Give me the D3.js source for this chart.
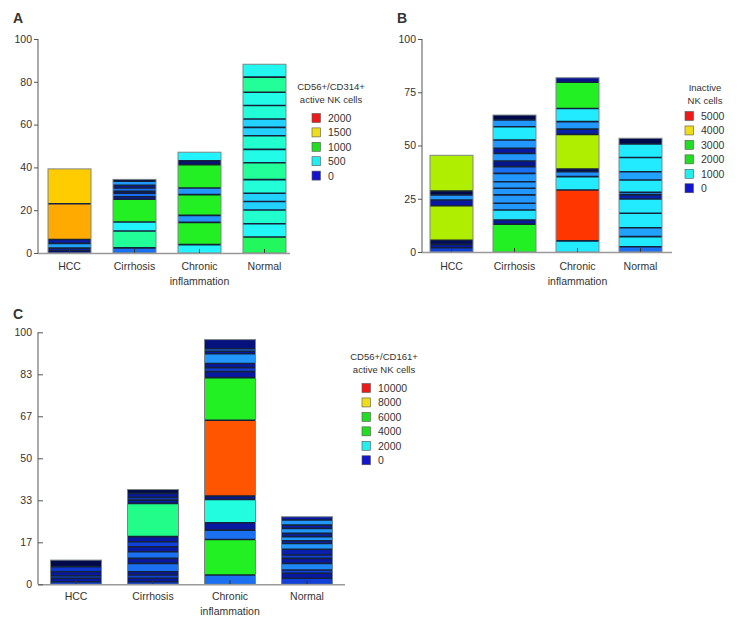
<!DOCTYPE html>
<html><head><meta charset="utf-8">
<script src="https://cdn.jsdelivr.net/npm/d3@7"></script>
<style>body{margin:0;background:#fff}svg{display:block}text{font-family:"Liberation Sans",Arial,sans-serif;fill:#333}</style>
</head><body><svg id="c" width="739" height="628"></svg>
<script>
// ---------- data ----------
const categories = ["HCC", "Cirrhosis", "Chronic inflammation", "Normal"];

const ticksA = [0, 20, 40, 60, 80, 100];
const ticksB = [0, 25, 50, 75, 100];
const ticksC = [0, 100/6, 200/6, 50, 400/6, 500/6, 100];
const tickLabelsC = ["0", "17", "33", "50", "67", "83", "100"];

// Panel A: upper edge of each stacked segment (%) and its colour value (0-2000)
const aTops = [
  [1.2, 2.3, 4.5, 6.3, 23.0, 39.3],
  [2.4, 10.3, 14.5, 25.1, 26.3, 27.9, 28.8, 30.4, 31.6, 33.5, 34.4],
  [3.9, 14.3, 17.6, 27.3, 30.4, 41.3, 43.1, 47.1],
  [7.5, 13.7, 20.1, 24.1, 27.9, 34.3, 42.2, 48.4, 54.8, 58.7, 62.6, 68.9, 75.1, 82.2, 88.2]
];
const aVals = [
  [60, 120, 420, 110, 1600, 1440],
  [300, 840, 600, 1000, 100, 300, 100, 300, 100, 400, 0],
  [600, 1000, 400, 1000, 400, 1000, 50, 600],
  [920, 620, 720, 520, 520, 700, 840, 660, 720, 520, 520, 700, 660, 840, 640]
];
// Panel B: colour value 0-5000
const bTops = [
  [2.0, 3.6, 5.5, 21.7, 24.4, 26.8, 28.6, 45.4],
  [13.1, 15.0, 19.7, 22.9, 26.8, 29.9, 33.0, 36.9, 40.1, 42.7, 46.3, 48.7, 52.6, 58.8, 62.0, 64.3],
  [5.2, 29.1, 35.4, 37.7, 39.0, 55.2, 57.7, 61.2, 67.4, 79.7, 81.8],
  [2.5, 7.2, 11.4, 18.2, 24.9, 26.8, 28.0, 33.8, 37.7, 44.4, 50.7, 53.4]
];
const bVals = [
  [500, 250, 50, 3100, 250, 1000, 0, 3100],
  [2500, 250, 1400, 1000, 1000, 1000, 1000, 1000, 750, 200, 1000, 250, 1000, 1450, 1000, 0],
  [1450, 4800, 1450, 950, 50, 3100, 300, 1000, 1450, 2500, 200],
  [750, 1450, 1050, 1450, 1450, 300, 1000, 1450, 1050, 1450, 1450, 0]
];
// Panel C: colour value 0-10000
const cTops = [
  [1.0, 2.4, 3.4, 5.0, 7.0, 9.6],
  [1.0, 2.4, 3.7, 5.0, 8.3, 10.3, 12.9, 14.9, 16.9, 18.9, 32.1, 33.4, 34.5, 36.1, 37.6],
  [3.7, 17.8, 21.5, 24.4, 33.7, 35.0, 65.1, 82.0, 84.4, 86.0, 87.6, 91.5, 92.5, 93.5, 97.1],
  [2.4, 4.4, 5.7, 8.3, 10.3, 11.6, 13.9, 16.2, 17.3, 18.9, 20.2, 22.2, 23.5, 25.5, 26.8]
];
const cVals = [
  [1000, 500, 1000, 500, 900, 0],
  [1000, 500, 1000, 500, 1500, 500, 1500, 500, 1000, 500, 4300, 500, 1000, 500, 0],
  [1500, 5000, 1500, 500, 3400, 500, 9000, 5000, 500, 1000, 500, 2000, 500, 1500, 300],
  [1000, 500, 1000, 1800, 500, 1000, 600, 2000, 600, 2000, 600, 2000, 600, 2000, 500]
];

const legendALabels = ["2000", "1500", "1000", "500", "0"];
const legendAColors = ["#ee1a1a", "#eedd1a", "#22dd22", "#22eeee", "#1414cc"];
const legendBLabels = ["5000", "4000", "3000", "2000", "1000", "0"];
const legendBColors = ["#ee1a1a", "#eedd1a", "#22dd22", "#22dd22", "#22eeee", "#1414cc"];
const legendCLabels = ["10000", "8000", "6000", "4000", "2000", "0"];
const legendCColors = ["#ee1a1a", "#eedd1a", "#22dd22", "#22dd22", "#22eeee", "#1414cc"];

// ---------- drawing ----------
const svg = d3.select("#c");
const heat = d3.scaleLinear()
  .domain([0, 0.05, 0.10, 0.15, 0.20, 0.25, 0.30, 0.35, 0.42, 0.50, 0.62, 0.72, 0.80, 0.90, 1.0])
  .range(["#000a4a", "#0818a0", "#1040d8", "#1a70f0", "#2298ff", "#22c8ff", "#22f4ff", "#22ffd8",
          "#22ff99", "#22f022", "#b0ee00", "#ffcc00", "#ffaa00", "#ff5500", "#ff2200"])
  .clamp(true);

function panel(cfg) {
  const g = svg.append("g");
  const x = d3.scaleBand().domain(categories).range(cfg.xr)
    .paddingInner(cfg.pad).paddingOuter(cfg.pad / 2);
  const y = d3.scaleLinear().domain([0, 100]).range(cfg.yr);

  categories.forEach((cat, i) => {
    const tops = cfg.tops[i], vals = cfg.vals[i];
    const bg = g.append("g");
    const segs = tops.map((t, j) => ({lo: j ? tops[j - 1] : 0, hi: t, v: vals[j]}));
    bg.selectAll("rect.s").data(segs).join("rect").attr("class", "s")
      .attr("x", x(cat)).attr("width", x.bandwidth())
      .attr("y", d => y(d.hi)).attr("height", d => y(d.lo) - y(d.hi))
      .attr("fill", d => heat(d.v / cfg.max));
    bg.selectAll("line.sep").data(tops.slice(0, -1)).join("line").attr("class", "sep")
      .attr("x1", x(cat)).attr("x2", x(cat) + x.bandwidth())
      .attr("y1", d => y(d)).attr("y2", d => y(d))
      .attr("stroke", "#14223a").attr("stroke-width", 1.6);
    bg.append("rect").attr("x", x(cat)).attr("width", x.bandwidth())
      .attr("y", y(tops[tops.length - 1])).attr("height", y(0) - y(tops[tops.length - 1]))
      .attr("fill", "none").attr("stroke", "#7c8686").attr("stroke-width", 1);
    bg.append("line").attr("x1", x(cat) + x.bandwidth() / 2).attr("x2", x(cat) + x.bandwidth() / 2)
      .attr("y1", y(0)).attr("y2", y(0) - 4).attr("stroke", "#333").attr("stroke-width", 1);
  });

  g.append("line").attr("x1", cfg.ax).attr("x2", cfg.xEnd).attr("y1", y(0) + 0.5).attr("y2", y(0) + 0.5)
    .attr("stroke", "#999").attr("stroke-width", 1.6);
  const yAxis = (cfg.inward ? d3.axisRight(y).tickSize(5) : d3.axisLeft(y).tickSize(4))
    .tickValues(cfg.ticks).tickFormat((d, k) => cfg.tickLabels ? cfg.tickLabels[k] : d);
  const ya = g.append("g").attr("transform", `translate(${cfg.ax},0)`).call(yAxis);
  ya.select(".domain").attr("stroke", "#555").attr("d", `M0,${y(0)}V${y(100)}`);
  ya.selectAll(".tick line").attr("stroke", "#555");
  ya.selectAll(".tick text").attr("fill", "#333").style("font-size", "10.5px")
    .style("font-family", '"Liberation Sans",Arial,sans-serif');
  if (cfg.inward) ya.selectAll(".tick text").attr("x", -6).attr("text-anchor", "end");
  else ya.selectAll(".tick text").attr("x", -6);

  categories.forEach(cat => {
    const words = cat === "Chronic inflammation" ? ["Chronic", "inflammation"] : [cat];
    words.forEach((w, k) => {
      g.append("text").attr("x", x(cat) + x.bandwidth() / 2).attr("y", cfg.labY + k * 15)
        .attr("text-anchor", "middle").style("font-size", "10.5px").text(w);
    });
  });

  g.append("text").attr("x", cfg.letter[0]).attr("y", cfg.letter[1])
    .style("font-size", "14px").style("font-weight", "bold").attr("fill", "#111").text(cfg.name);

  cfg.legTitle.forEach((t, k) => {
    g.append("text").attr("x", cfg.legTitleX).attr("y", cfg.legTitleY + k * 13)
      .attr("text-anchor", "middle").style("font-size", "9.5px").text(t);
  });
  cfg.legLabels.forEach((t, k) => {
    const cy = cfg.legY + k * cfg.legStep;
    g.append("rect").attr("x", cfg.legX).attr("y", cy - 4.5).attr("width", 8.5).attr("height", 9)
      .attr("fill", cfg.legColors[k]).attr("stroke", "#555").attr("stroke-width", 0.6);
    g.append("text").attr("x", cfg.legX + 16).attr("y", cy + 4)
      .style("font-size", "10.5px").text(t);
  });
}

panel({name: "A", letter: [13, 23], xr: [37, 297], pad: 22 / 65, yr: [253, 39], ax: 38, xEnd: 290,
  ticks: ticksA, tops: aTops, vals: aVals, max: 2000, labY: 270,
  legTitle: ["CD56+/CD314+", "active NK cells"], legTitleX: 331, legTitleY: 90,
  legLabels: legendALabels, legColors: legendAColors, legX: 312, legY: 118, legStep: 14.4});

panel({name: "B", letter: [397, 23], xr: [420, 672], pad: 20 / 63, yr: [252, 39], ax: 422, xEnd: 672,
  ticks: ticksB, tops: bTops, vals: bVals, max: 5000, labY: 270,
  legTitle: ["Inactive", "NK cells"], legTitleX: 705, legTitleY: 91,
  legLabels: legendBLabels, legColors: legendBColors, legX: 685, legY: 116, legStep: 14.45});

panel({name: "C", letter: [13, 319], xr: [37.5, 345.5], pad: 26 / 77, yr: [584.3, 332.3], ax: 38, xEnd: 345,
  ticks: ticksC, tickLabels: tickLabelsC, inward: true, tops: cTops, vals: cVals, max: 10000, labY: 600,
  legTitle: ["CD56+/CD161+", "active NK cells"], legTitleX: 384, legTitleY: 360,
  legLabels: legendCLabels, legColors: legendCColors, legX: 362, legY: 388, legStep: 14.45});
</script></body></html>
